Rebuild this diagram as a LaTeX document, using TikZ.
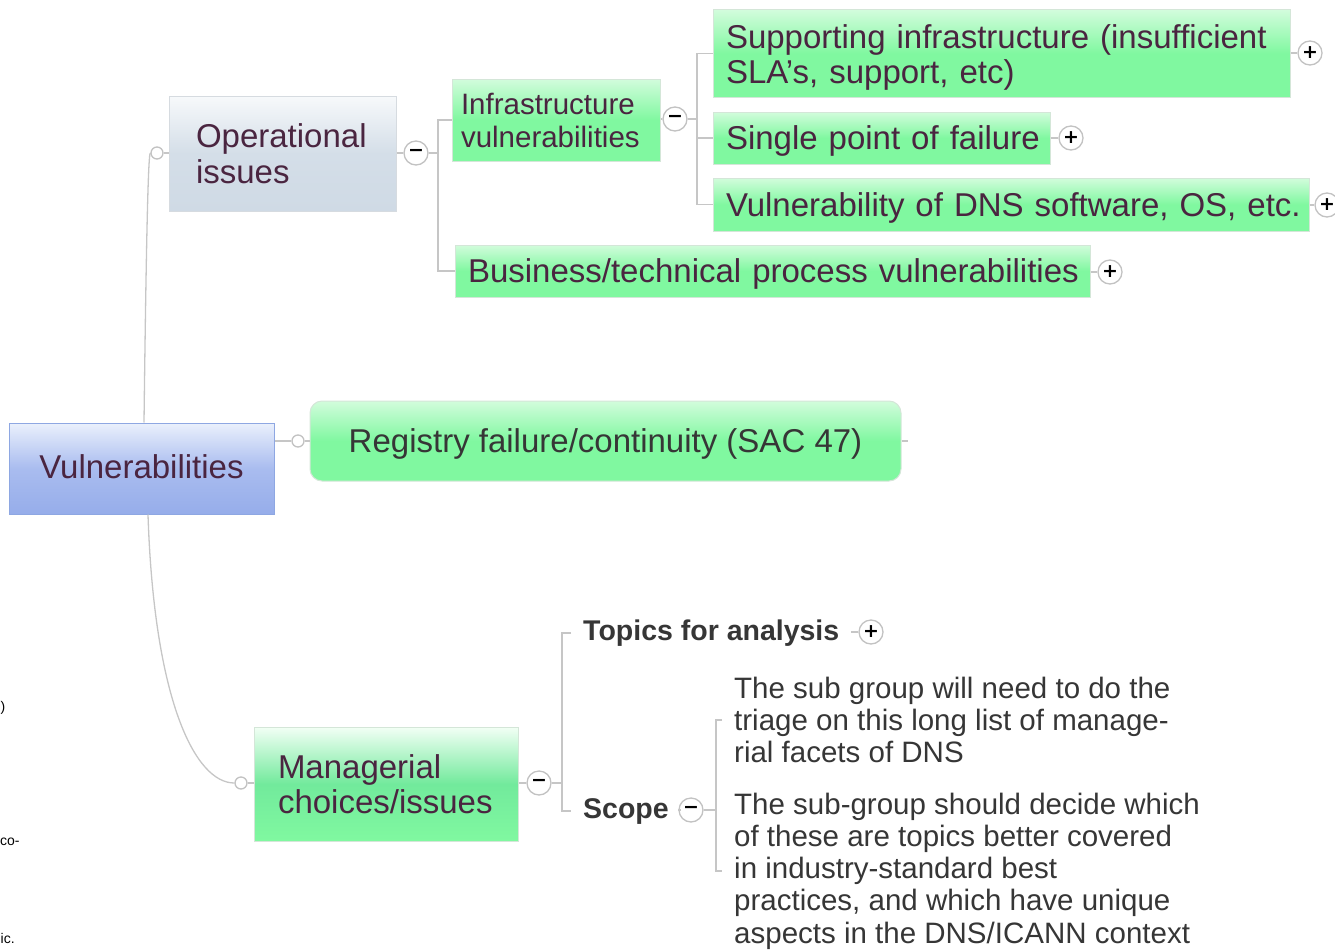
\documentclass[tikz,border=0pt]{standalone}
\usepackage{fontspec}
\setmainfont{Liberation Sans}
\newfontfamily\djv{DejaVu Sans}
\usetikzlibrary{calc}
\definecolor{lineg}{HTML}{C6C6C6}
\definecolor{pmg}{HTML}{C2C2C2}
\definecolor{gmain}{HTML}{80F8A0}
\definecolor{gtop}{HTML}{D2FCDC}
\definecolor{gborder}{HTML}{D4E6D8}
\definecolor{tmar}{HTML}{4A2540}
\definecolor{tgray}{HTML}{363636}
\definecolor{btop}{HTML}{EAF0FC}
\definecolor{bmid}{HTML}{A9BCEF}
\definecolor{bbot}{HTML}{96ADEA}
\definecolor{bborder}{HTML}{8EA7E2}
\definecolor{otop}{HTML}{F7F9FB}
\definecolor{omid}{HTML}{D4DEE8}
\definecolor{obot}{HTML}{CFDAE5}
\definecolor{oborder}{HTML}{D6DBE0}
\definecolor{mtop}{HTML}{F2FFF5}
\definecolor{mmid}{HTML}{72EA9C}
\begin{document}
\begin{tikzpicture}[x=1pt,y=-1pt,
  conn/.style={draw=lineg, line width=1.3pt},
  gbox/.style={draw=gborder, line width=1pt, top color=gtop, bottom color=gmain, middle color=gmain, text=tmar, inner ysep=0pt, align=left},
  pm/.style={circle, draw=pmg, line width=1.3pt, fill=white, minimum size=24pt, inner sep=0pt, text=black, font=\djv\bfseries\fontsize{19}{19}\selectfont},
  oc/.style={circle, draw=pmg, line width=1.3pt, fill=white, minimum size=12pt, inner sep=0pt},
  big/.style={font=\fontsize{33}{35.5}\selectfont},
  mid/.style={font=\fontsize{29.5}{33}\selectfont},
  lab/.style={text=tgray, font=\bfseries\fontsize{28.5}{30}\selectfont, inner xsep=12pt, inner ysep=2pt},
  body/.style={text=tgray, align=left, inner xsep=12pt, inner ysep=0pt, font=\fontsize{29.5}{32.3}\selectfont},
  frag/.style={text=black, font=\fontsize{14}{16}\selectfont, inner sep=0pt, anchor=west}
]
\useasboundingbox (0,0) rectangle (1335,950);
\clip (0,0) rectangle (1335,950);

% root
\node[draw=bborder, line width=1pt, top color=btop, bottom color=bbot, middle color=bmid,
      text=tmar, big, minimum width=265pt, minimum height=91pt, inner sep=0pt, align=center, text depth=3pt]
      (vul) at (141.5,468.5) {Vulnerabilities};

% operational branch
\node[draw=oborder, line width=1pt, top color=otop, bottom color=obot, middle color=omid,
      text=tmar, big, minimum width=227pt, minimum height=115pt, inner xsep=27pt, inner ysep=0pt,
      text width=173pt, align=left] (opr) at (282.5,153.5) {Operational\\issues};

\node[gbox, mid, minimum width=208pt, minimum height=82pt, inner xsep=9pt, text width=190pt]
      (inf) at (556,120) {Infrastructure\\vulnerabilities};

\node[gbox, big, minimum width=577pt, minimum height=87pt, inner xsep=13pt, text width=551pt, text depth=34pt]
      (sup) at (1001.5,53.5) {Supporting infrastructure (insufficient\\SLA's, support, etc)};
\node[gbox, big, minimum width=337pt, minimum height=52pt, inner xsep=13pt, text width=311pt, text depth=0pt]
      (spf) at (881.5,138) {\mbox{Single point of failure}};
\node[gbox, big, minimum width=596pt, minimum height=53pt, inner xsep=13pt, text width=570pt, text depth=0pt]
      (dns) at (1011,204.5) {\mbox{Vulnerability of DNS software, OS, etc.}};
\node[gbox, big, minimum width=635pt, minimum height=52pt, inner xsep=13pt, text width=609pt, text depth=0pt]
      (bus) at (772.5,271) {\mbox{Business/technical process vulnerabilities}};

% registry
\node[gbox, big, rounded corners=12pt, text=tgray, minimum width=591pt, minimum height=80pt,
      inner sep=0pt, align=center, text depth=0pt] (reg) at (605.5,441) {Registry failure/continuity (SAC 47)};

% managerial branch
\node[draw=gborder, line width=1pt, top color=mtop, bottom color=gmain, middle color=mmid,
      text=tmar, big, minimum width=264pt, minimum height=114pt, inner xsep=24pt, inner ysep=0pt,
      text width=216pt, align=left] (man) at (386,784) {Managerial\\choices/issues};

\node[lab, anchor=west] (top) at (571,633) {Topics for analysis};
\node[lab, anchor=west] (scp) at (571,811) {Scope};

\node[body, anchor=west] (s1) at (722,720) {The sub group will need to do the\\triage on this long list of manage-\\rial facets of DNS};
\node[body, anchor=west] (s2) at (722,871) {The sub-group should decide which\\of these are topics better covered\\in industry-standard best\\practices, and which have unique\\aspects in the DNS/ICANN context};

% expand / collapse markers
\node[pm] (m1) at (416,153) {−};
\node[pm] (m2) at (675,119) {−};
\node[pm] (p1) at (1310,53) {+};
\node[pm] (p2) at (1071,138) {+};
\node[pm] (p3) at (1327,205) {+};
\node[pm] (p4) at (1110,272) {+};
\node[pm] (p5) at (871,632) {+};
\node[pm] (m3) at (539,783) {−};
\node[pm] (m4) at (691,810) {−};

\node[oc] (oc1) at (157,153) {};
\node[oc] (oc2) at (298,441) {};
\node[oc] (oc3) at (241,783) {};

\coordinate (b1) at (438,153);
\coordinate (b2) at (697,119);
\coordinate (b3) at (562,783);
\coordinate (b4) at (716,810);
\coordinate (regend) at (908,441);

% connectors from root
\draw[conn] ($(vul.north)+(2.5,0)$) .. controls (146,260) and (148,153) .. (oc1.west);
\draw[conn] ($(vul.south)+(6.5,0)$) .. controls (154,700) and (195,783) .. (oc3.west);
\draw[conn] (vul.east |- oc2.west) -- (oc2.west);
\draw[conn] (oc1.east) -- (opr.west |- oc1.east);
\draw[conn] (oc2.east) -- (reg.west);
\draw[conn] (oc3.east) -- (man.west |- oc3.east);
\draw[conn] (reg.east) -- (regend);

% operational brackets
\draw[conn] (opr.east |- m1.west) -- (m1.west);
\draw[conn] (m1.east) -- (b1);
\draw[conn] (inf.west) -- (inf.west -| b1) -- (bus.west -| b1) -- (bus.west);
\draw[conn] (inf.east |- m2.west) -- (m2.west);
\draw[conn] (m2.east) -- (b2);
\draw[conn] (sup.west) -- (sup.west -| b2) -- (dns.west -| b2) -- (dns.west);
\draw[conn] (spf.west -| b2) -- (spf.west);
\draw[conn] (sup.east |- p1.west) -- (p1.west);
\draw[conn] (spf.east) -- (p2.west);
\draw[conn] (dns.east |- p3.west) -- (p3.west);
\draw[conn] (bus.east |- p4.west) -- (p4.west);

% managerial brackets
\draw[conn] (man.east |- m3.west) -- (m3.west);
\draw[conn] (m3.east) -- (b3);
\draw[conn] (top.west) -- (top.west -| b3) -- (scp.west -| b3) -- (scp.west);
\draw[conn] (top.east |- p5.west) -- (p5.west);
\draw[conn] (scp.east |- m4.west) -- (m4.west);
\draw[conn] (m4.east) -- (b4);
\draw[conn] (s1.west) -- (s1.west -| b4) -- (s2.west -| b4) -- (s2.west);

% fragments at the left edge
\node[frag] (f1) at (0.5,708) {)};
\node[frag] (f2) at (0,842) {co-};
\node[frag] (f3) at (0.5,938) {ic.};
\end{tikzpicture}
\end{document}
